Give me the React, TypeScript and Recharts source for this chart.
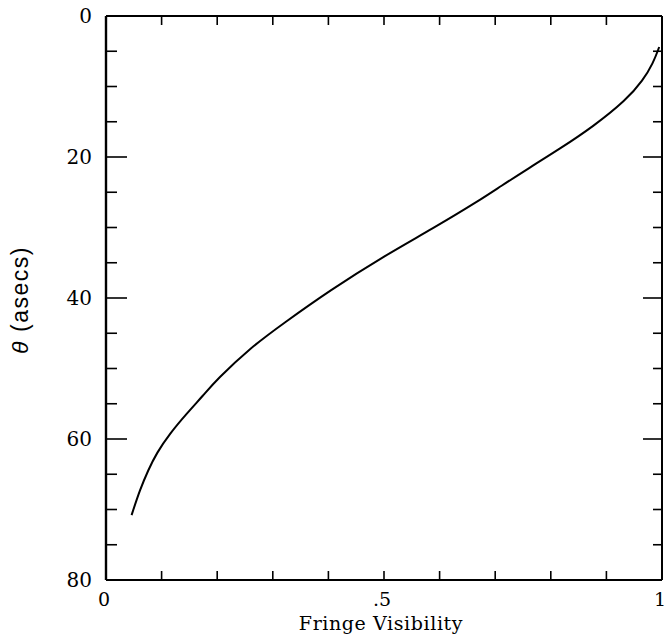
import React from 'react';
import { LineChart, Line, XAxis, YAxis, Label } from 'recharts';

const visibility = [0.046, 0.061, 0.076, 0.091, 0.115, 0.145, 0.175, 0.199, 0.259, 0.319, 0.403, 0.499, 0.589, 0.673, 0.709, 0.76, 0.817, 0.876, 0.936, 0.966, 0.984, 0.995];
const thetaAsecs = [70.8, 67.2, 64.4, 62.0, 59.2, 56.4, 53.8, 51.6, 47.1, 43.6, 38.9, 34.1, 30.1, 26.1, 24.2, 21.6, 18.8, 15.7, 11.9, 9.1, 6.7, 4.4];
const xTicks = [0, 0.1, 0.2, 0.3, 0.4, 0.5, 0.6, 0.7, 0.8, 0.9, 1];
const xTickLabels: Record<string, string> = { '0': '0', '0.5': '.5', '1': '1' };
const yTicks = [0, 5, 10, 15, 20, 25, 30, 35, 40, 45, 50, 55, 60, 65, 70, 75, 80];
const yMajor = [0, 20, 40, 60, 80];

const data = visibility.map((v, i) => ({ v, theta: thetaAsecs[i] }));

const PL = 106;
const PR = 662;
const PT = 16;
const PB = 580;
const SERIF = '"DejaVu Serif", "Liberation Serif", serif';

const LeftTick = (props: any) => {
  const { y, payload } = props;
  const v = payload.value;
  const major = yMajor.includes(v);
  return (
    <g>
      <line x1={PL} x2={PL + (major ? 21 : 11)} y1={y} y2={y} stroke="#000" strokeWidth={1.6} />
      {major && (
        <text x={92} y={y} dy="0.36em" textAnchor="end" fontFamily={SERIF} fontSize={20} fill="#000">
          {v}
        </text>
      )}
    </g>
  );
};

const RightTick = (props: any) => {
  const { y, payload } = props;
  const major = yMajor.includes(payload.value);
  return <line x1={PR - (major ? 19 : 9)} x2={PR} y1={y} y2={y} stroke="#000" strokeWidth={1.6} />;
};

const BottomTick = (props: any) => {
  const { x, payload } = props;
  const lbl = xTickLabels[String(payload.value)];
  return (
    <g>
      <line x1={x} x2={x} y1={PB} y2={PB - 9} stroke="#000" strokeWidth={1.6} />
      {lbl && (
        <text x={x - 2} y={606} textAnchor="middle" fontFamily={SERIF} fontSize={19} fill="#000">
          {lbl}
        </text>
      )}
    </g>
  );
};

const TopTick = (props: any) => {
  const { x } = props;
  return <line x1={x} x2={x} y1={PT} y2={PT + 9} stroke="#000" strokeWidth={1.6} />;
};

export default function App() {
  return (
    <div style={{ position: 'absolute', left: 0, top: 0, background: '#fff' }}>
      <LineChart width={666} height={637} data={data} margin={{ top: 0, right: 0, bottom: 0, left: 0 }}>
        <XAxis
          xAxisId="b"
          dataKey="v"
          type="number"
          domain={[0, 1]}
          ticks={xTicks}
          orientation="bottom"
          height={57}
          axisLine={{ stroke: '#000', strokeWidth: 2 }}
          tickLine={false}
          tick={<BottomTick />}
          interval={0}
        >
          <Label
            content={() => (
              <text x={381} y={630} textAnchor="middle" fontFamily={SERIF} fontSize={19} letterSpacing={0.6} fill="#000">
                Fringe Visibility
              </text>
            )}
          />
        </XAxis>
        <XAxis
          xAxisId="t"
          dataKey="v"
          type="number"
          domain={[0, 1]}
          ticks={xTicks}
          orientation="top"
          height={16}
          axisLine={{ stroke: '#000', strokeWidth: 2 }}
          tickLine={false}
          tick={<TopTick />}
          interval={0}
        />
        <YAxis
          yAxisId="l"
          type="number"
          domain={[0, 80]}
          reversed
          ticks={yTicks}
          orientation="left"
          width={106}
          axisLine={{ stroke: '#000', strokeWidth: 2.4 }}
          tickLine={false}
          tick={<LeftTick />}
          interval={0}
        >
          <Label
            content={() => (
              <text
                transform="translate(20,300) rotate(-90)"
                textAnchor="middle"
                dominantBaseline="central"
                fontFamily='"Liberation Sans", Arial, sans-serif'
                fontSize={23}
                letterSpacing={1.5}
                fill="#000"
              >
                <tspan fontStyle="italic">θ</tspan> (asecs)
              </text>
            )}
          />
        </YAxis>
        <YAxis
          yAxisId="r"
          type="number"
          domain={[0, 80]}
          reversed
          ticks={yTicks}
          orientation="right"
          width={4}
          axisLine={{ stroke: '#000', strokeWidth: 2 }}
          tickLine={false}
          tick={<RightTick />}
          interval={0}
        />
        <Line
          xAxisId="b"
          yAxisId="l"
          dataKey="theta"
          type="basis"
          stroke="#000"
          strokeWidth={2}
          dot={false}
          isAnimationActive={false}
        />
        <Line
          xAxisId="t"
          yAxisId="r"
          dataKey="theta"
          type="basis"
          stroke="none"
          dot={false}
          isAnimationActive={false}
        />
      </LineChart>
    </div>
  );
}
